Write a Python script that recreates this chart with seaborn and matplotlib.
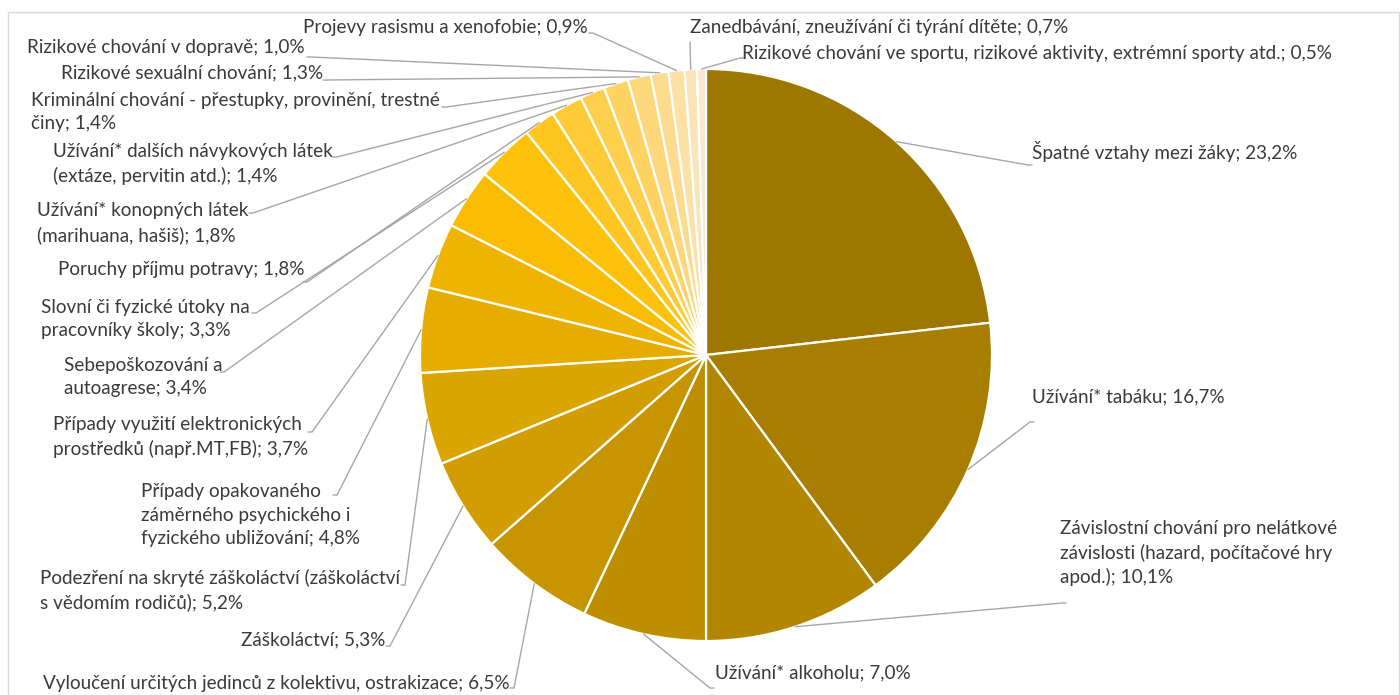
import matplotlib
matplotlib.use("Agg")
import matplotlib.pyplot as plt
import seaborn as sns
import numpy as np

# data (clockwise from 12 o'clock)
categories = [
    "Špatné vztahy mezi žáky",
    "Užívání* tabáku",
    "Závislostní chování pro nelátkové\nzávislosti (hazard, počítačové hry\napod.)",
    "Užívání* alkoholu",
    "Vyloučení určitých jedinců z kolektivu, ostrakizace",
    "Záškoláctví",
    "Podezření na skryté záškoláctví (záškoláctví\ns vědomím rodičů)",
    "Případy opakovaného\nzáměrného psychického i\nfyzického ubližování",
    "Případy využití elektronických\nprostředků (např.MT,FB)",
    "Sebepoškozování a\nautoagrese",
    "Slovní či fyzické útoky na\npracovníky školy",
    "Poruchy příjmu potravy",
    "Užívání* konopných látek\n(marihuana, hašiš)",
    "Užívání* dalších návykových látek\n(extáze, pervitin atd.)",
    "Kriminální chování - přestupky, provinění, trestné\nčiny",
    "Rizikové sexuální chování",
    "Rizikové chování v dopravě",
    "Projevy rasismu a xenofobie",
    "Zanedbávání, zneužívání či týrání dítěte",
    "Rizikové chování ve sportu, rizikové aktivity, extrémní sporty atd.",
]
shares = [23.2, 16.7, 10.1, 7.0, 6.5, 5.3, 5.2, 4.8, 3.7, 3.4,
          3.3, 1.8, 1.8, 1.4, 1.4, 1.3, 1.0, 0.9, 0.7, 0.5]

# label layout in image pixels (y from top): x, y of block centre, alignment, elbow of leader
label_pos = [
    (1032, 152, "left", (1028, 165)),
    (1032, 397, "left", (1030, 422)),
    (1060, 553, "left", (1062, 603)),
    (715, 673, "left", (710, 688)),
    (510, 683, "right", (514, 688)),
    (385, 640, "right", (390, 646)),
    (400, 590, "right", (405, 585)),
    (360, 515, "right", (337, 495)),
    (308, 437, "right", (312, 432)),
    (222, 377, "right", (224, 372)),
    (250, 319, "right", (256, 313)),
    (305, 269, "right", (307, 282)),
    (248, 223, "right", (253, 213)),
    (333, 164, "right", (337, 157)),
    (440, 112, "right", (446, 107)),
    (323, 73, "right", (327, 80)),
    (305, 47, "right", (311, 57)),
    (588, 28, "right", (593, 33)),
    (690, 28, "left", (690, 42)),
    (742, 53, "left", (740, 58)),
]

W, H = 1400, 695
sns.set_theme(style="white")
plt.rcParams['font.family'] = ['Lato', 'DejaVu Sans']

colors = sns.blend_palette(["#9E7700", "#FFC000", "#FCE8CF"], len(shares))

fig = plt.figure(figsize=(14, 6.95), dpi=100)
ax = fig.add_axes([0, 0, 1, 1])

cx, cy, r = 706, H - 355, 286
wedges, _ = ax.pie(shares, colors=colors, startangle=90, counterclock=False,
                   center=(cx, cy), radius=r, frame=False,
                   wedgeprops=dict(edgecolor="white", linewidth=1.6))
ax.set_xlim(0, W)
ax.set_ylim(0, H)
ax.set_aspect("equal")
ax.axis("off")

for wedge, name, val, (lx, ly, ha, (ex, ey)) in zip(wedges, categories, shares, label_pos):
    text = name + "; " + f"{val:.1f}".replace(".", ",") + "%"
    ax.text(lx, H - ly, text, ha=ha, va="center", multialignment="left",
            fontsize=13.6, color="#3A3A3A", linespacing=1.45)
    # leader line from the middle of the wedge's arc to the label
    mid = np.deg2rad((wedge.theta1 + wedge.theta2) / 2)
    px, py = cx + r * np.cos(mid), cy + r * np.sin(mid)
    tick = 4 if ha == "left" else -4
    if abs(ex - px) < 3:
        tick = 0
    ax.plot([px, ex, ex + tick], [py, H - ey, H - ey], color="#A6A6A6", lw=1)

# light frame of the chart area
fig.add_artist(plt.Line2D([8 / W, 8 / W, 1399 / W, 1399 / W], [0, 1 - 12 / H, 1 - 12 / H, 0],
                          transform=fig.transFigure, color="#D9D9D9", lw=1))

fig.savefig("out.png", dpi=100, facecolor="white")
